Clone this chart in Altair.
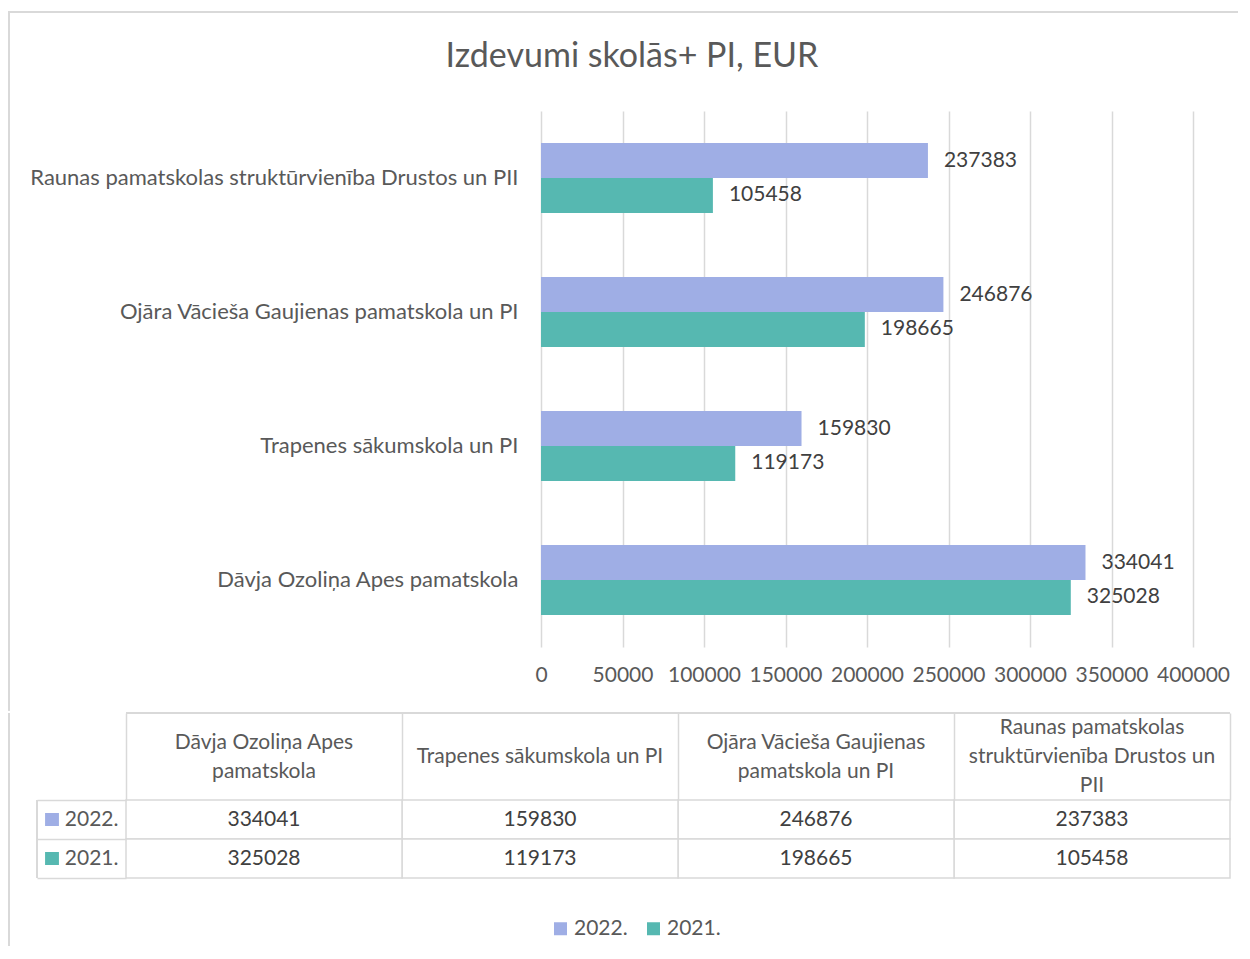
import altair as alt
import pandas as pd

# ---- data ----
categories = [
    "Raunas pamatskolas struktūrvienība Drustos un PII",
    "Ojāra Vācieša Gaujienas pamatskola un PI",
    "Trapenes sākumskola un PI",
    "Dāvja Ozoliņa Apes pamatskola ",
]
values_2022 = [237383, 246876, 159830, 334041]
values_2021 = [105458, 198665, 119173, 325028]
years = ["2022.", "2021."]
colors = ["#9FAEE5", "#56B8B1"]
# table header labels (line breaks marked with |), same order as categories
header_labels = [
    "Raunas pamatskolas|struktūrvienība Drustos un|PII",
    "Ojāra Vācieša Gaujienas|pamatskola un PI",
    "Trapenes sākumskola un PI",
    "Dāvja Ozoliņa Apes|pamatskola",
]
table_order = header_labels[::-1]
x_ticks = [0, 50000, 100000, 150000, 200000, 250000, 300000, 350000, 400000]
title_text = "Izdevumi skolās+ PI, EUR"

rows = []
for i, c in enumerate(categories):
    rows.append({"cat": c, "header": header_labels[i], "year": years[0], "value": values_2022[i]})
    rows.append({"cat": c, "header": header_labels[i], "year": years[1], "value": values_2021[i]})
df = pd.DataFrame(rows)
df_head = pd.DataFrame({"header": header_labels})

FONT = "Lato"
GRID = "#D9D9D9"
LABEL = "#595959"
VAL = "#404040"
FS = 21
FS_CAT = 22

legend = alt.Legend(
    orient="none", legendX=424, legendY=807, direction="horizontal", title=None,
    symbolType="square", symbolSize=169, symbolStrokeWidth=0,
    labelFontSize=FS, labelColor=LABEL, labelFont=FONT,
    columnPadding=15, labelOffset=3, padding=0,
)
color = alt.Color("year:N", scale=alt.Scale(domain=years, range=colors), legend=legend)

# ---- bar chart (plot area shares its left edge with the data table) ----
y_enc = alt.Y(
    "cat:N", sort=categories, title=None,
    scale=alt.Scale(paddingInner=0.478, paddingOuter=0.239),
    axis=alt.Axis(labelFontSize=FS_CAT, labelFont=FONT, labelColor=LABEL, ticks=False,
                  domain=False, labelPadding=23, labelLimit=700, offset=-415),
)
yoff = alt.YOffset("year:N", sort=years, scale=alt.Scale(paddingInner=0, paddingOuter=0))
x_enc = alt.X(
    "value:Q", title=None, scale=alt.Scale(domain=[0, 400000], nice=False, range=[415, 1067]),
    axis=alt.Axis(values=x_ticks, labelFontSize=FS, labelFont=FONT, labelColor=LABEL,
                  ticks=False, domain=False, grid=True, gridColor=GRID, gridWidth=1.5,
                  labelPadding=17, labelFlush=False, format="d", minExtent=64),
)

bars = alt.Chart(df).mark_bar().encode(y=y_enc, yOffset=yoff, x=x_enc, color=color)
bar_labels = alt.Chart(df).mark_text(
    align="left", baseline="middle", dx=16, fontSize=FS, font=FONT, color=VAL
).encode(y=y_enc, yOffset=yoff, x=x_enc, text=alt.Text("value:Q", format="d"))

# chart-area frame (light grey line along the top and left edges)
frame_top = alt.Chart(df_head).mark_rule(color=GRID, strokeWidth=2).encode(
    x=alt.value(-118), x2=alt.value(1112), y=alt.value(-99))
frame_left_top = alt.Chart(df_head).mark_rule(color=GRID, strokeWidth=2).encode(
    x=alt.value(-117), y=alt.value(-99), y2=alt.value(599.5))

bar_chart = alt.layer(frame_top, frame_left_top, bars, bar_labels).properties(width=1067, height=536)

# ---- data table ----
tx = alt.X(
    "header:N", sort=table_order, title=None,
    scale=alt.Scale(paddingInner=0, paddingOuter=0),
    axis=alt.Axis(orient="top", labels=False, ticks=True, tickBand="extent", tickSize=87,
                  tickColor=GRID, tickWidth=1.5, domain=False),
)
ty = alt.Y(
    "year:N", sort=years, title=None,
    scale=alt.Scale(paddingInner=0, paddingOuter=0),
    axis=alt.Axis(labelFontSize=FS, labelFont=FONT, labelColor=LABEL, ticks=True,
                  tickBand="extent", tickSize=89, tickColor=GRID, tickWidth=1.5,
                  labelPadding=-81, domain=False, labelAlign="right", labelAngle=0),
)
cells = alt.Chart(df).mark_rect(fill="white", stroke=GRID, strokeWidth=1.5).encode(x=tx, y=ty)
cell_text = alt.Chart(df).mark_text(fontSize=FS, font=FONT, color=VAL).encode(
    x=tx, y=ty, text=alt.Text("value:Q", format="d"))
keys = alt.Chart(df).mark_point(shape="square", filled=True, size=169, opacity=1).encode(
    x=alt.value(-74), y=ty, color=color)
top_border = alt.Chart(df_head).mark_rule(color=GRID, strokeWidth=1.5).encode(
    x=alt.value(0), x2=alt.value(1104), y=alt.value(-87))
left_border = alt.Chart(df_head).mark_rule(color=GRID, strokeWidth=1.5).encode(
    x=alt.value(-89), y=alt.value(0), y2=alt.value(78))
frame_left_bottom = alt.Chart(df_head).mark_rule(color=GRID, strokeWidth=2).encode(
    x=alt.value(-117), y=alt.value(-87), y2=alt.value(146))

# header cell texts, vertically centred in the header row (one layer per line count)
header_layers = []
for k in (1, 2, 3):
    header_layers.append(
        alt.Chart(df_head)
        .transform_calculate(n="length(split(datum.header, '|'))")
        .transform_filter(f"datum.n == {k}")
        .mark_text(fontSize=FS, font=FONT, color=LABEL, baseline="middle",
                   lineBreak="|", lineHeight=29, dy=-(k - 1) * 14.5)
        .encode(x=tx, y=alt.value(-43), text="header:N")
    )

table = alt.layer(frame_left_bottom, cells, cell_text, keys, top_border, left_border,
                  *header_layers).properties(width=1104, height=78)

chart = alt.vconcat(bar_chart, table, spacing=0).properties(
    title=alt.TitleParams(title_text, fontSize=34, font=FONT, color=LABEL, fontWeight="normal",
                          anchor="middle", offset=-90, baseline="alphabetic", dx=9),
    padding={"left": -1, "top": 3, "right": 0, "bottom": 0},
).configure_view(stroke=None)

chart.save("out.html", embed_options={"renderer": "svg", "actions": False})
